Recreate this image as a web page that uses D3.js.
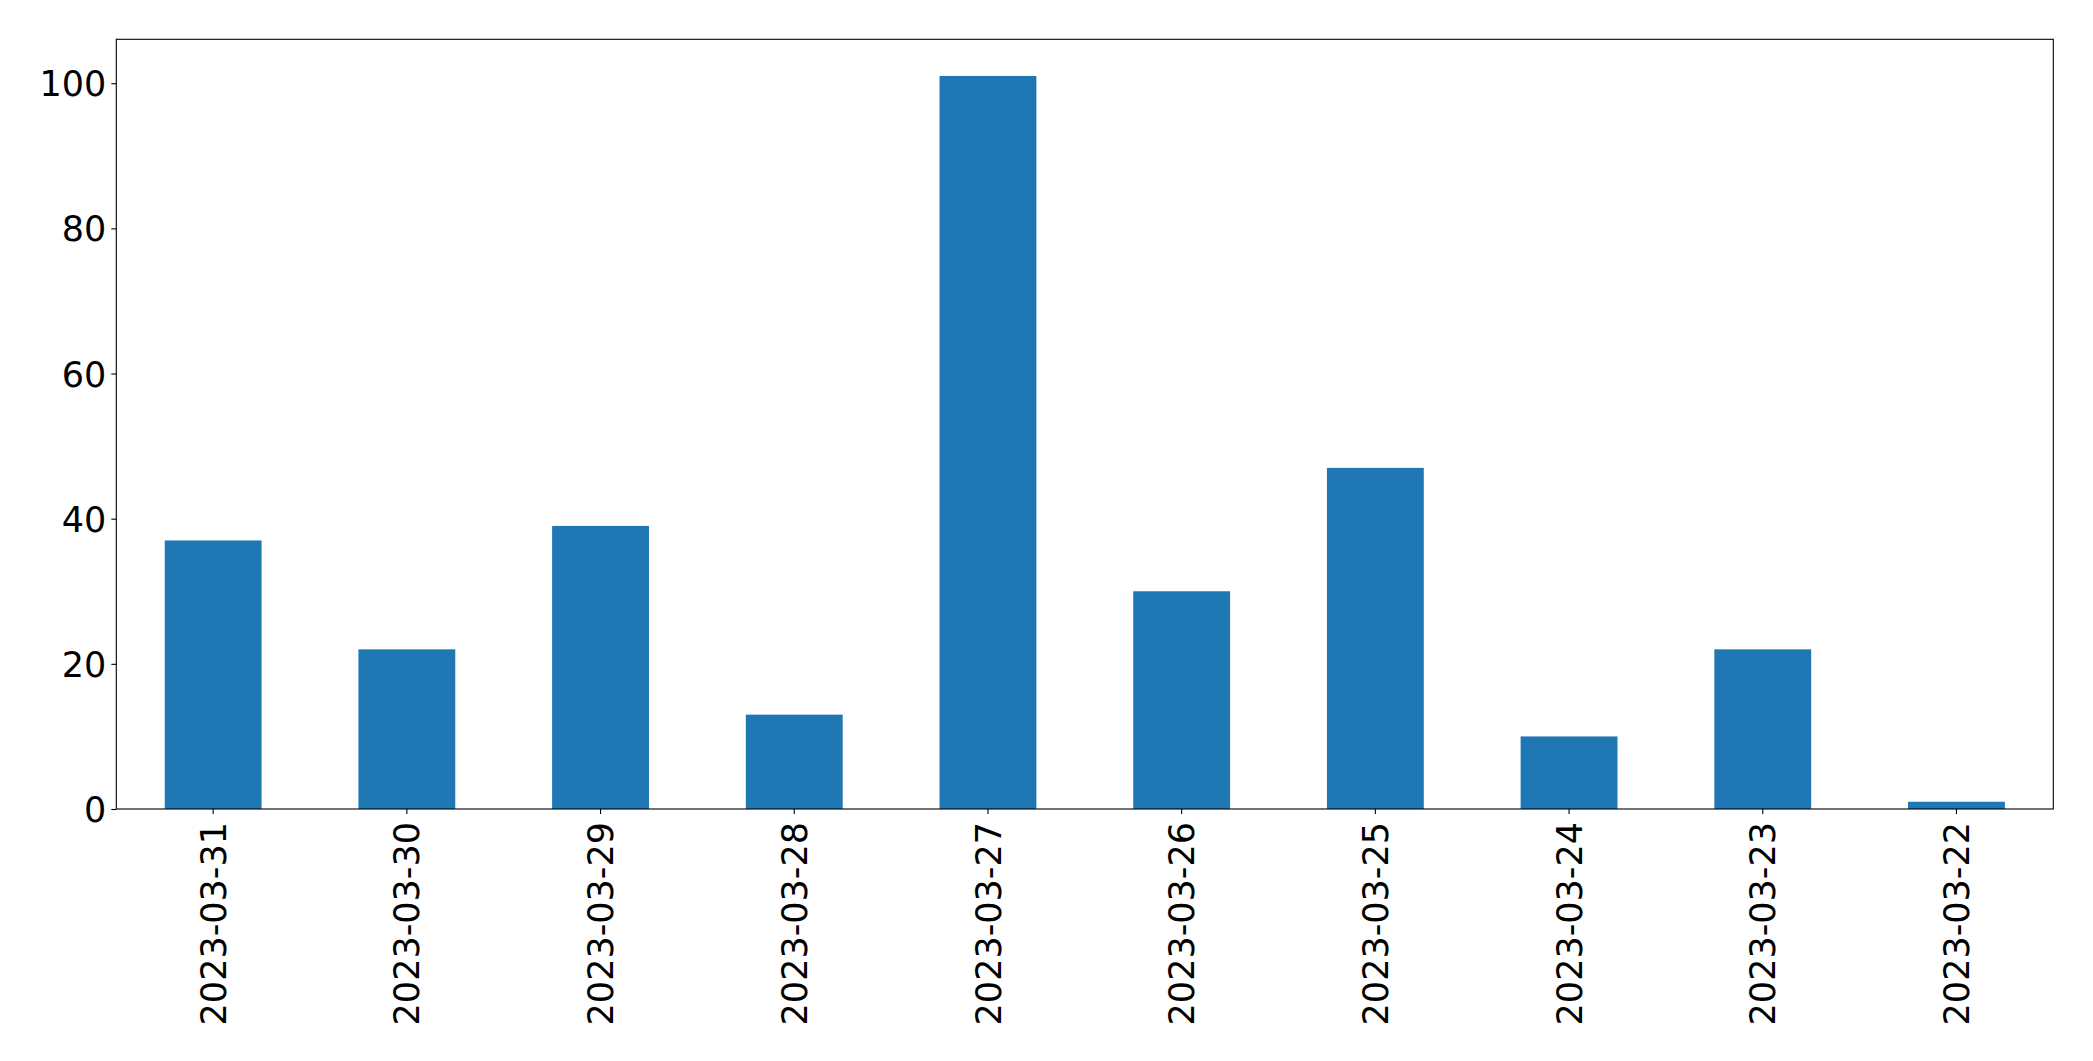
<!DOCTYPE html>
<html>
<head>
<meta charset="utf-8">
<script src="https://cdn.jsdelivr.net/npm/d3@7"></script>
<style>
  html, body { margin: 0; padding: 0; background: #fff; }
  svg { display: block; }
  text { font-family: "DejaVu Sans", sans-serif; fill: #000; }
</style>
</head>
<body>
<svg id="chart" width="2093" height="1061"></svg>
<script>
const categories = ["2023-03-31","2023-03-30","2023-03-29","2023-03-28","2023-03-27","2023-03-26","2023-03-25","2023-03-24","2023-03-23","2023-03-22"];
const values = [37, 22, 39, 13, 101, 30, 47, 10, 22, 1];
const yTicks = [0, 20, 40, 60, 80, 100];

const W = 2093, H = 1061;
const margin = { left: 116.3, right: W - 2053.3, top: 39.3, bottom: H - 809 };
const innerW = W - margin.left - margin.right;
const innerH = H - margin.top - margin.bottom;
const fontSize = 35;

const svg = d3.select("#chart");
const g = svg.append("g").attr("transform", `translate(${margin.left},${margin.top})`);

const x = d3.scaleBand().domain(categories).range([0, innerW]).paddingInner(0.5).paddingOuter(0.25);
const yMax = d3.max(values) * 1.05;
const y = d3.scaleLinear().domain([0, yMax]).range([innerH, 0]);

g.selectAll("rect.bar").data(values).join("rect")
  .attr("class", "bar")
  .attr("x", (d, i) => x(categories[i]))
  .attr("width", x.bandwidth())
  .attr("y", d => y(d))
  .attr("height", d => innerH - y(d))
  .attr("fill", "#1f77b4");

// Y axis
const yAxis = d3.axisLeft(y).tickValues(yTicks).tickSize(5).tickPadding(5).tickFormat(d3.format("d"));
const yg = g.append("g").call(yAxis);
yg.select(".domain").remove();
yg.selectAll(".tick line").attr("stroke", "#000").attr("stroke-width", 1.1);
yg.selectAll(".tick text").attr("font-size", fontSize).attr("font-family", "DejaVu Sans").attr("fill", "#000").attr("dy", "0.36em");

// X axis
const xAxis = d3.axisBottom(x).tickSize(5).tickPadding(0);
const xg = g.append("g").attr("transform", `translate(0,${innerH})`).call(xAxis);
xg.select(".domain").remove();
xg.selectAll(".tick line").attr("stroke", "#000").attr("stroke-width", 1.1);
xg.selectAll(".tick text")
  .attr("font-size", fontSize).attr("font-family", "DejaVu Sans").attr("fill", "#000")
  .attr("text-anchor", "end")
  .attr("transform", "rotate(-90)")
  .attr("x", -13)
  .attr("y", 0)
  .attr("dy", "0.36em");

// Frame
g.append("rect")
  .attr("x", 0).attr("y", 0).attr("width", innerW).attr("height", innerH)
  .attr("fill", "none").attr("stroke", "#000").attr("stroke-width", 1.1);
</script>
</body>
</html>
